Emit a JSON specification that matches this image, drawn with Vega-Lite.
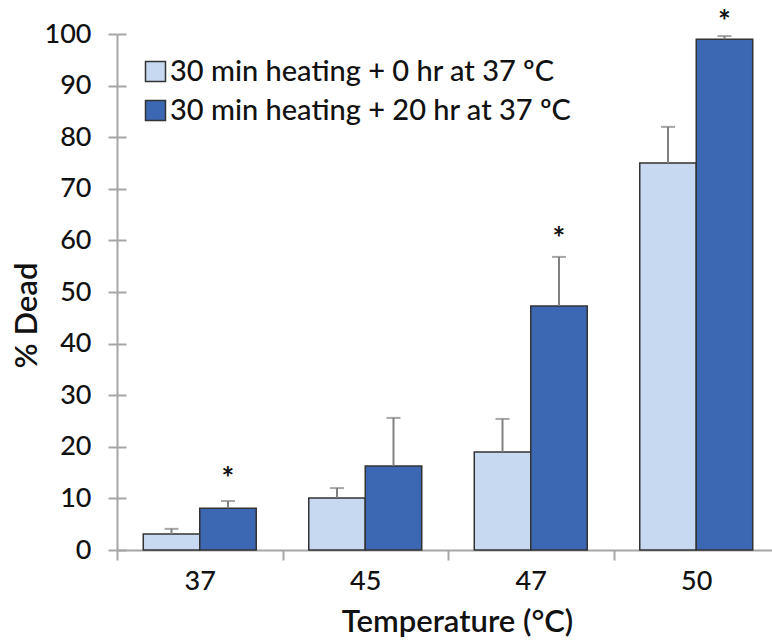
{
  "$schema": "https://vega.github.io/schema/vega-lite/v6.json",
  "width": 662,
  "height": 516,
  "autosize": "none",
  "padding": {"left": 117, "top": 34, "right": 0, "bottom": 93},
  "background": "white",
  "config": {"view": {"stroke": null}, "font": "Lato"},
  "data": {"values": [
    {"temp": "37", "group": "30 min heating + 0 hr at 37 ºC", "pct": 3.1, "err": 4.1, "star": null},
    {"temp": "37", "group": "30 min heating + 20 hr at 37 ºC", "pct": 8.1, "err": 9.5, "star": 13.5},
    {"temp": "45", "group": "30 min heating + 0 hr at 37 ºC", "pct": 10.1, "err": 12.0, "star": null},
    {"temp": "45", "group": "30 min heating + 20 hr at 37 ºC", "pct": 16.3, "err": 25.6, "star": null},
    {"temp": "47", "group": "30 min heating + 0 hr at 37 ºC", "pct": 19.0, "err": 25.4, "star": null},
    {"temp": "47", "group": "30 min heating + 20 hr at 37 ºC", "pct": 47.3, "err": 56.8, "star": 60.0},
    {"temp": "50", "group": "30 min heating + 0 hr at 37 ºC", "pct": 75.0, "err": 82.0, "star": null},
    {"temp": "50", "group": "30 min heating + 20 hr at 37 ºC", "pct": 99.0, "err": 99.6, "star": 102.1}
  ]},
  "encoding": {
    "x": {
      "field": "temp", "type": "nominal", "sort": ["37", "45", "47", "50"],
      "scale": {"paddingInner": 0, "paddingOuter": 0},
      "axis": {
        "title": "Temperature (°C)", "labelAngle": 0, "tickBand": "extent",
        "tickSize": 10, "tickWidth": 2, "tickColor": "#a6a6a6",
        "domainColor": "#a6a6a6", "domainWidth": 2,
        "labelFontSize": 27, "labelFontWeight": 500, "labelColor": "#111111", "labelPadding": 8,
        "titleFontSize": 31, "titleFontWeight": 600, "titleColor": "#111111",
        "titlePadding": 13, "titleX": 340
      }
    },
    "xOffset": {
      "field": "group", "type": "nominal",
      "scale": {"paddingOuter": 0.465, "paddingInner": 0}
    }
  },
  "layer": [
    {
      "mark": {"type": "bar", "stroke": "#333333", "strokeWidth": 1.5},
      "encoding": {
        "y": {
          "field": "pct", "type": "quantitative",
          "scale": {"domain": [0, 100], "nice": false},
          "axis": {
            "title": "% Dead", "values": [0, 10, 20, 30, 40, 50, 60, 70, 80, 90, 100],
            "tickSize": 9, "tickWidth": 2, "tickColor": "#a6a6a6",
            "domainColor": "#a6a6a6", "domainWidth": 2,
            "grid": true, "gridDash": [9, 2000], "gridColor": "#a6a6a6", "gridWidth": 2,
            "labelFontSize": 27, "labelFontWeight": 500, "labelColor": "#111111", "labelPadding": 17,
            "titleFontSize": 31, "titleFontWeight": 600, "titleColor": "#111111",
            "titlePadding": 1, "titleY": 281
          }
        },
        "color": {
          "field": "group", "type": "nominal",
          "scale": {"range": ["#c6d9f0", "#3b67b3"]},
          "legend": {
            "orient": "none", "legendX": 24, "legendY": 23, "title": null,
            "symbolType": "square", "symbolSize": 400,
            "symbolStrokeColor": "#333333", "symbolStrokeWidth": 1.5,
            "labelFontSize": 29, "labelFontWeight": 500, "labelColor": "#111111", "rowPadding": 9,
            "labelOffset": 0, "labelLimit": 640
          }
        }
      }
    },
    {
      "mark": {"type": "rule", "color": "#808080", "strokeWidth": 2},
      "encoding": {
        "y": {"field": "pct", "type": "quantitative"},
        "y2": {"field": "err"}
      }
    },
    {
      "mark": {"type": "tick", "color": "#808080", "thickness": 2, "size": 14, "orient": "horizontal"},
      "encoding": {"y": {"field": "err", "type": "quantitative"}}
    },
    {
      "transform": [{"filter": "datum.star != null"}],
      "mark": {"type": "text", "text": "*", "fontSize": 30, "fontWeight": "bold", "color": "#111111", "baseline": "middle"},
      "encoding": {"y": {"field": "star", "type": "quantitative"}}
    }
  ]
}
